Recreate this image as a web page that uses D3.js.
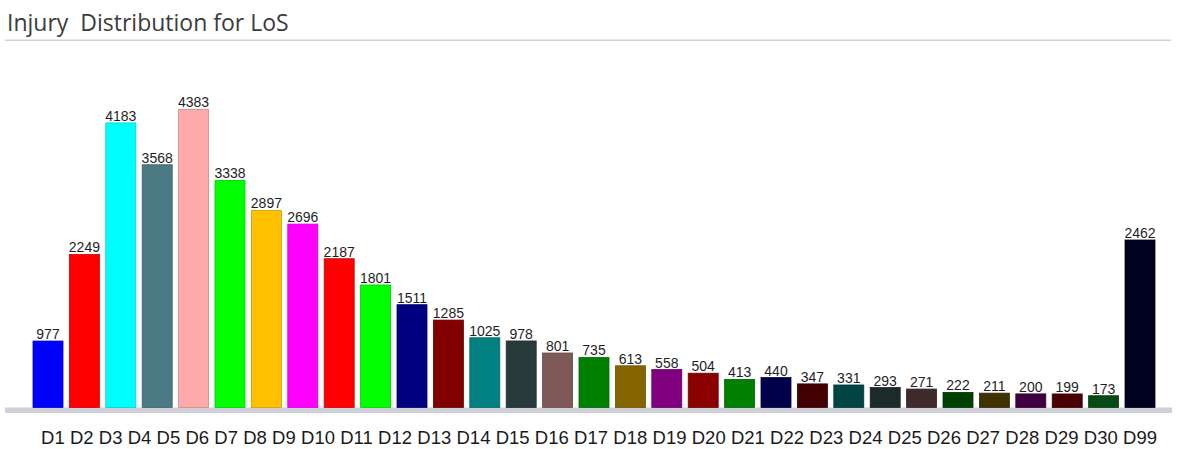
<!DOCTYPE html>
<html>
<head>
<meta charset="utf-8">
<script src="https://cdn.jsdelivr.net/npm/d3@7"></script>
<style>
  body { margin: 0; background: #fff; }
  svg { display: block; }
</style>
</head>
<body>
<svg id="chart"></svg>
<script>
// chart size
const width = 1187,
  height = 449;

// data
const categories = ["D1", "D2", "D3", "D4", "D5", "D6", "D7", "D8", "D9", "D10",
  "D11", "D12", "D13", "D14", "D15", "D16", "D17", "D18", "D19", "D20",
  "D21", "D22", "D23", "D24", "D25", "D26", "D27", "D28", "D29", "D30", "D99"];
const values = [977, 2249, 4183, 3568, 4383, 3338, 2897, 2696, 2187, 1801,
  1511, 1285, 1025, 978, 801, 735, 613, 558, 504, 413,
  440, 347, 331, 293, 271, 222, 211, 200, 199, 173, 2462];
const barColors = ["#0000ff", "#ff0000", "#00ffff", "#4b7a84", "#ffaaaa", "#00ff00", "#ffc000", "#ff00ff", "#ff0000", "#00ff00",
  "#000080", "#800000", "#008080", "#283a3a", "#7f5858", "#008000", "#856500", "#800080", "#8b0000", "#008000",
  "#000048", "#420000", "#004444", "#1c2a2a", "#3f2b2b", "#004000", "#403200", "#400040", "#480000", "#084a14", "#000020"];
const title = "Injury  Distribution for LoS";

const data = categories.map((c, i) => ({ name: c, value: values[i], fill: barColors[i] }));

// scales
const x = d3.scaleBand()
  .domain(categories)
  .range([33, 1155])
  .paddingInner(0.176)
  .paddingOuter(0);

const y = d3.scaleLinear()
  .domain([0, d3.max(values)])
  .range([407.5, 109.3]);

const svg = d3.select("#chart")
  .attr("width", width)
  .attr("height", height)
  .attr("viewBox", [0, 0, width, height]);

// title + rule under it
svg.append("text")
  .attr("x", 7)
  .attr("y", 31)
  .attr("fill", "#3c3c3c")
  .style("font", "23px 'Open Sans', sans-serif")
  .style("white-space", "pre")
  .text(title);

svg.append("rect")
  .attr("x", 5).attr("y", 39.5)
  .attr("width", 1166).attr("height", 1.5)
  .attr("fill", "#d4d4d4");

// floor band under the bars
svg.append("rect")
  .attr("x", 5).attr("y", y(0))
  .attr("width", 1167).attr("height", 5.5)
  .attr("fill", "#d0d0d8");

// bars
svg.append("g")
  .selectAll("rect")
  .data(data)
  .join("rect")
  .attr("x", d => x(d.name))
  .attr("y", d => y(d.value))
  .attr("width", x.bandwidth())
  .attr("height", d => y(0) - y(d.value))
  .attr("fill", d => d.fill)
  .attr("stroke", d => d3.color(d.fill).darker(0.6))
  .attr("stroke-width", 0.8);

// value labels
svg.append("g")
  .attr("text-anchor", "middle")
  .style("font", "14px 'Liberation Sans', Arial, sans-serif")
  .attr("fill", "#1e1e1e")
  .selectAll("text")
  .data(data)
  .join("text")
  .attr("x", d => x(d.name) + x.bandwidth() / 2)
  .attr("y", d => y(d.value) - 2)
  .text(d => d.value);

// category labels run as one line of text, like the original
svg.append("text")
  .attr("x", 41)
  .attr("y", 444)
  .attr("fill", "#1a1a1a")
  .attr("textLength", 1116)
  .attr("lengthAdjust", "spacing")
  .style("font", "18.5px 'Liberation Sans', Arial, sans-serif")
  .text(categories.join(" "));
</script>
</body>
</html>
